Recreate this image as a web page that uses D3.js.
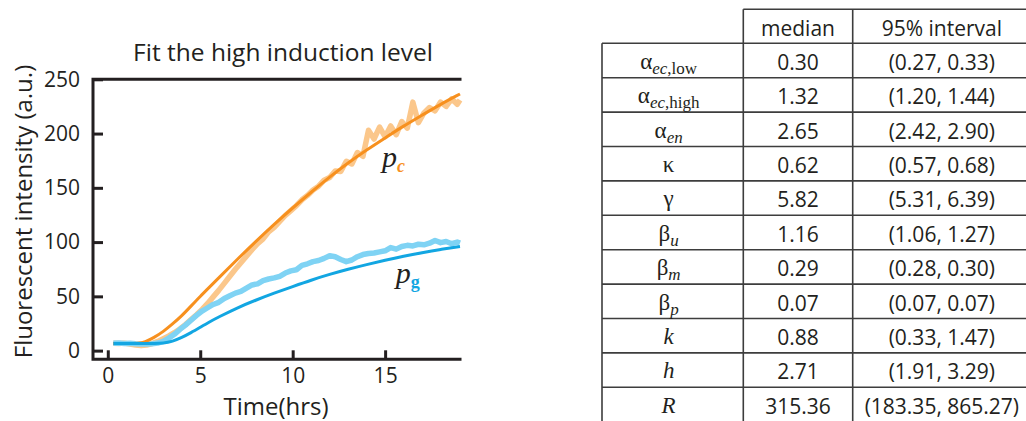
<!DOCTYPE html>
<html lang="en">
<head>
<meta charset="UTF-8">
<title>Fit the high induction level</title>
<script src="https://cdn.jsdelivr.net/npm/d3@7"></script>
<style>
  body { margin: 0; background: #fff; }
  svg text { font-family: "Open Sans", sans-serif; fill: #231f20; }
  svg text.serif { font-family: "Liberation Serif", "DejaVu Serif", serif; }
</style>
</head>
<body>
<div id="chart"></div>
<script>
// measured traces (hrs, a.u.)
var dataHrs = [0.3, 0.6, 0.9, 1.2, 1.5, 1.8, 2.1, 2.4, 2.7, 3.0, 3.3, 3.6, 3.9, 4.2, 4.5, 4.8,
  5.1, 5.4, 5.7, 6.0, 6.3, 6.6, 6.9, 7.2, 7.5, 7.8, 8.1, 8.4, 8.7, 9.0, 9.3, 9.6, 9.9, 10.2,
  10.5, 10.8, 11.1, 11.4, 11.7, 12.0, 12.3, 12.6, 12.9, 13.2, 13.5, 13.8, 14.1, 14.4, 14.7,
  15.0, 15.3, 15.6, 15.9, 16.2, 16.5, 16.8, 17.1, 17.4, 17.7, 18.0, 18.3, 18.6, 18.9, 19.05];
var pcData = [6.8, 6.5, 6.9, 6.0, 5.2, 4.6, 5.2, 6.5, 8.5, 11.0, 13.5, 16.5, 20.0, 24.0, 28.5, 33.0,
  38.0, 43.5, 49.5, 55.5, 62.0, 68.5, 75.0, 81.0, 87.0, 93.0, 98.5, 103.0, 109.5, 113.5, 119.0, 124.5, 129.0, 133.5,
  139.0, 143.0, 148.0, 151.5, 157.0, 159.5, 165.5, 165.0, 174.5, 172.0, 182.5, 179.0, 203.0, 195.0, 206.0,
  197.0, 207.0, 199.0, 211.0, 205.0, 229.0, 210.0, 219.0, 224.0, 221.0, 229.0, 225.0, 232.0, 227.0, 231.0];
var pgData = [6.8, 7.0, 6.6, 6.8, 6.3, 6.0, 6.2, 6.4, 7.0, 8.5, 11.5, 15.0, 19.5, 23.5, 28.0, 32.5,
  36.5, 39.5, 42.5, 44.5, 48.0, 50.5, 53.0, 54.5, 57.5, 60.5, 61.5, 64.5, 66.0, 67.0, 68.5, 71.5, 73.5, 74.5,
  78.5, 80.0, 82.0, 83.0, 85.0, 87.5, 86.5, 84.0, 82.0, 83.5, 86.5, 88.5, 89.5, 90.0, 91.0,
  92.0, 95.0, 93.5, 96.0, 97.0, 96.5, 98.0, 97.5, 99.0, 101.5, 99.5, 100.5, 98.5, 100.0, 99.0];

// model fits
var fitHrs = [0.3, 1.0, 1.7, 2.0, 2.5, 3.0, 3.5, 4.0, 4.5, 5.0, 5.5, 6, 7, 8, 9, 10, 11, 12, 13, 14, 15, 16, 17, 18, 19.05];
var pcFit = [6.5, 6.5, 6.5, 7.8, 12, 17.5, 24.5, 32, 41, 50, 58.5, 67, 84, 100.5, 116.5, 131.5, 146, 160, 173, 185, 196, 207, 217, 227, 236.5];
var pgFit = [6.5, 6.5, 6.5, 6.5, 6.5, 6.8, 8.5, 12, 16.5, 21.5, 26.5, 31, 39.5, 46.5, 53, 59, 65, 70.3, 75, 79.3, 83.3, 87, 90.3, 93.3, 96];

var xTicks = [0, 5, 10, 15];
var yTicks = [0, 50, 100, 150, 200, 250];

// parameter table
var paramBase = ["\u03b1", "\u03b1", "\u03b1", "\u03ba", "\u03b3", "\u03b2", "\u03b2", "\u03b2", "k", "h", "R"];
var paramSub = ["ec", "ec", "en", "", "", "u", "m", "p", "", "", ""];
var paramSubTail = [",low", ",high", "", "", "", "", "", "", "", "", ""];
var medians = ["0.30", "1.32", "2.65", "0.62", "5.82", "1.16", "0.29", "0.07", "0.88", "2.71", "315.36"];
var intervals = ["(0.27, 0.33)", "(1.20, 1.44)", "(2.42, 2.90)", "(0.57, 0.68)", "(5.31, 6.39)", "(1.06, 1.27)",
  "(0.28, 0.30)", "(0.07, 0.07)", "(0.33, 1.47)", "(1.91, 3.29)", "(183.35, 865.27)"];
var headers = ["median", "95% interval"];

var ink = "#231f20";
var svg = d3.select("#chart").append("svg")
    .attr("width", 1026)
    .attr("height", 421);

// ---- chart ----
var x = d3.scaleLinear().domain([-0.8, 19.05]).range([93, 460]);
var y = d3.scaleLinear().domain([-8, 250]).range([359.3, 79.3]);

svg.append("g")
    .attr("transform", "translate(" + x.range()[0] + ",0)")
    .call(d3.axisLeft(y).tickValues(yTicks).tickSize(-10).tickSizeOuter(0).tickPadding(13))
    .call(function(g) { g.select(".domain").remove(); })
    .attr("font-family", null)
    .attr("font-size", 21)
    .attr("color", ink)
    .selectAll("line").attr("stroke-width", 3);

svg.append("g")
    .attr("transform", "translate(0," + y.range()[0] + ")")
    .call(d3.axisBottom(x).tickValues(xTicks).tickSize(-9).tickSizeOuter(0).tickPadding(8.5))
    .call(function(g) { g.select(".domain").remove(); })
    .attr("font-family", null)
    .attr("font-size", 21)
    .attr("color", ink)
    .selectAll("line").attr("stroke-width", 3);

// frame: left, top, bottom
var x0 = x.range()[0], x1 = x.range()[1], yTop = y.range()[1], yBot = y.range()[0];
svg.append("path")
    .attr("d", "M" + x1 + "," + yTop + "H" + x0 + "V" + yBot + "H" + x1)
    .attr("fill", "none")
    .attr("stroke", ink)
    .attr("stroke-width", 3)
    .attr("stroke-linecap", "square");

function series(hrs, vals) {
  return hrs.map(function(t, i) { return [t, vals[i]]; });
}
var raw = d3.line().x(function(d) { return x(d[0]); }).y(function(d) { return y(d[1]); });
var smooth = d3.line().x(function(d) { return x(d[0]); }).y(function(d) { return y(d[1]); }).curve(d3.curveBasis);

svg.append("path").datum(series(dataHrs, pcData)).attr("d", raw)
    .attr("fill", "none").attr("stroke", "#fbc78b").attr("stroke-width", 5.5).attr("stroke-linejoin", "round");
svg.append("path").datum(series(dataHrs, pgData)).attr("d", raw)
    .attr("fill", "none").attr("stroke", "#7fd3f4").attr("stroke-width", 5.5).attr("stroke-linejoin", "round");
svg.append("path").datum(series(fitHrs, pcFit)).attr("d", smooth)
    .attr("fill", "none").attr("stroke", "#f7901e").attr("stroke-width", 3);
svg.append("path").datum(series(fitHrs, pgFit)).attr("d", smooth)
    .attr("fill", "none").attr("stroke", "#12a6e2").attr("stroke-width", 3);

// curve labels
function curveLabel(t, v, sub, col, subItalic) {
  var lab = svg.append("text").attr("class", "serif")
      .attr("x", x(t)).attr("y", y(v))
      .attr("font-size", 30).attr("font-style", "italic")
      .text("p");
  lab.append("tspan").attr("dy", 5).attr("font-size", 18).attr("font-weight", "bold")
      .attr("font-style", subItalic ? "italic" : "normal")
      .style("fill", col).text(sub);
}
curveLabel(14.83, 169.5, "c", "#f7901e", true);
curveLabel(15.58, 62.4, "g", "#12a6e2", false);

svg.append("text").attr("x", 283).attr("y", 60.7).attr("text-anchor", "middle")
    .attr("font-size", 24.5).text("Fit the high induction level");
svg.append("text").attr("x", 276).attr("y", 414.5).attr("text-anchor", "middle")
    .attr("font-size", 24).text("Time(hrs)");
svg.append("text").attr("transform", "translate(31.5,211.5) rotate(-90)").attr("text-anchor", "middle")
    .attr("font-size", 24).text("Fluorescent intensity (a.u.)");

// ---- table ----
var colEdges = [602, 743.3, 852.7, 1031];
var headTop = 9.3, bodyTop = 43.3, rowH = 34.4;
var rowY = d3.range(paramBase.length + 1).map(function(i) { return bodyTop + i * rowH; });
var grid = "#3d3d3d";

var tbl = svg.append("g").attr("stroke", grid).attr("stroke-width", 1.6);
tbl.append("line").attr("x1", colEdges[1]).attr("x2", 1026).attr("y1", headTop).attr("y2", headTop);
tbl.selectAll(".hl").data(rowY).enter().append("line")
    .attr("x1", colEdges[0]).attr("x2", 1026)
    .attr("y1", function(d) { return d; }).attr("y2", function(d) { return d; });
tbl.append("line").attr("x1", colEdges[0]).attr("x2", colEdges[0]).attr("y1", bodyTop).attr("y2", 421);
[colEdges[1], colEdges[2]].forEach(function(cx) {
  tbl.append("line").attr("x1", cx).attr("x2", cx).attr("y1", headTop).attr("y2", 421);
});

var colMid = [0, 1, 2].map(function(i) { return (colEdges[i] + colEdges[i + 1]) / 2; });
var baseOff = 26.5;

headers.forEach(function(h, i) {
  svg.append("text").attr("x", colMid[i + 1]).attr("y", headTop + baseOff)
      .attr("text-anchor", "middle").attr("font-size", 21).text(h);
});

paramBase.forEach(function(b, i) {
  var yy = Math.min(rowY[i] + baseOff, 414);
  var t = svg.append("text").attr("class", "serif")
      .attr("x", colMid[0] - 4).attr("y", yy - 1)
      .attr("text-anchor", "middle").attr("font-size", 23);
  t.append("tspan").attr("font-style", /[a-zA-Z]/.test(b) ? "italic" : "normal").text(b);
  if (paramSub[i]) {
    t.append("tspan").attr("dy", 5).attr("font-size", 17).attr("font-style", "italic").text(paramSub[i]);
    if (paramSubTail[i]) t.append("tspan").attr("font-size", 17).text(paramSubTail[i]);
  }
  svg.append("text").attr("x", colMid[1]).attr("y", yy)
      .attr("text-anchor", "middle").attr("font-size", 21).text(medians[i]);
  svg.append("text").attr("x", colMid[2]).attr("y", yy)
      .attr("text-anchor", "middle").attr("font-size", 21).text(intervals[i]);
});
</script>
</body>
</html>
